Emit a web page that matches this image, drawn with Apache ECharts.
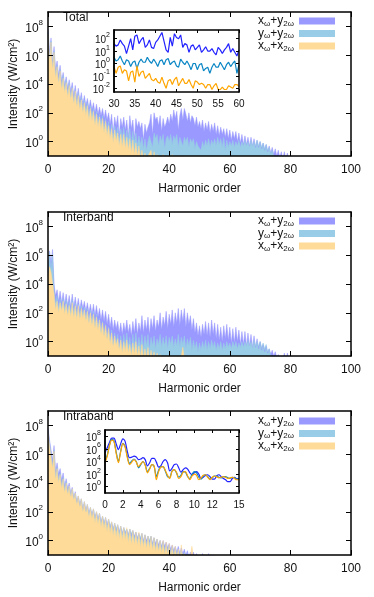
<!DOCTYPE html>
<html>
<head>
<meta charset="utf-8">
<script src="https://cdn.jsdelivr.net/npm/echarts@6/dist/echarts.min.js"></script>
<style>
  html, body { margin: 0; padding: 0; background: #fff; }
  #chart { width: 374px; height: 597px; }
</style>
</head>
<body>
<div id="chart"></div>
<script>
// spectra are sampled every STEP harmonic orders, values are log10 of intensity
var STEP = 0.5;
var INSET3_STEP = 0.25;
var INSET1_START = 30;

var mainXTicks = [0, 20, 40, 60, 80, 100];
var mainYTicks = [0, 2, 4, 6, 8];
var inset1YTicks = [-2, -1, 0, 1, 2];
var inset3YTicks = [0, 2, 4, 6, 8];
var panelTitles = ['Total', 'Interband', 'Intraband'];
var seriesNames = ['xw+y2w', 'yw+y2w', 'xw+x2w'];

// ---- Total ----
var totalBlue = [
  7.8, 6.2, 7.2, 5.5, 6.6, 5.0, 5.6, 4.6, 5.3, 4.2,
  4.8, 3.9, 4.5, 3.7, 4.3, 3.5, 4.1, 3.2, 3.9, 3.0,
  3.7, 2.8, 3.4, 2.6, 3.2, 2.5, 3.0, 2.3, 2.9, 2.2,
  2.7, 2.0, 2.6, 1.9, 2.4, 1.8, 2.3, 1.6, 2.2, 1.5,
  2.0, 1.2, 1.9, 0.6, 1.7, 1.1, 1.8, 0.4, 1.6, 1.0,
  1.7, 0.8, 1.5, 0.3, 1.8, 0.9, 1.5, 0.2, 1.6, 1.0,
  1.4, 0.9, 1.3, 0.1, 1.2, 0.6, 1.0, 1.3, 1.9, 0.5,
  2.0, 1.5, 1.7, 1.1, 1.8, 0.7, 1.6, 1.0, 1.3, 1.7,
  1.2, 1.9, 1.4, 2.2, 1.6, 2.1, 0.8, 1.8, 2.3, 1.5,
  2.3, 1.9, 1.4, 2.0, 1.3, 1.8, 1.6, 1.1, 1.7, 1.0,
  1.4, 0.9, 1.5, 0.7, 1.3, 0.8, 1.4, 0.6, 1.2, 0.7,
  1.3, 0.5, 1.1, 0.4, 1.0, 0.5, 0.9, 0.3, 0.9, 0.2,
  0.8, 0.1, 0.7, 0.2, 0.7, 0.0, 0.6, -0.1, 0.5, -0.2,
  0.4, -0.2, 0.3, -0.3, 0.3, -0.3, 0.2, -0.4, 0.1, -0.4,
  0.0, -0.5, -0.1, -0.6, -0.2, -0.7, -0.3, -0.8, -0.4, -0.9,
  -0.5, -1.0, -0.6, -1.1, -0.7, -1.2, -0.7, -1.2, -0.8, -1.3,
  -1.5
];
var totalLightBlue = [
  7.6, 5.8, 7.0, 5.2, 6.3, 4.6, 5.3, 4.2, 5.0, 3.8,
  4.6, 3.6, 4.3, 3.3, 4.1, 3.1, 3.8, 2.8, 3.6, 2.6,
  3.4, 2.4, 3.1, 2.2, 2.9, 2.1, 2.7, 1.8, 2.5, 1.8,
  2.3, 1.4, 2.1, 1.3, 1.9, 1.2, 1.8, 0.9, 1.6, 0.8,
  1.4, 0.5, 1.2, 0.3, 1.1, 0.4, 1.0, 0.1, 0.9, 0.2,
  1.0, 0.0, 0.8, 0.1, 0.9, -0.2, 0.7, -0.1, 0.6, -0.3,
  0.4, -0.2, 0.3, -0.5, 0.2, -0.6, 0.0, 0.4, 0.3, -0.4,
  0.6, 0.2, 0.5, -0.3, 0.4, 0.0, 0.5, -0.5, 0.2, 0.4,
  0.0, 0.5, -0.2, 0.4, 0.1, 0.5, -0.4, 0.3, 0.2, -0.3,
  0.3, 0.0, 0.3, -0.4, 0.2, -0.1, 0.2, -0.5, 0.0, -0.3,
  -0.2, -0.6, 0.0, -0.4, 0.1, -0.3, 0.2, -0.4, 0.1, -0.2,
  0.2, -0.3, 0.3, -0.2, 0.2, -0.4, 0.3, -0.6, 0.1, -0.4,
  0.0, -0.3, 0.1, -0.4, 0.0, -0.3, 0.1, -0.4, 0.0, -0.3,
  0.1, -0.3, 0.0, -0.4, 0.1, -0.3, 0.0, -0.3, 0.1, -0.3,
  0.0, -0.4, -0.1, -0.5, -0.2, -0.6, -0.4, -0.8, -0.6, -1.0,
  -0.9, -1.2, -1.5
];
var totalOrange = [
  7.5, 5.6, 6.9, 5.0, 6.2, 4.4, 5.2, 4.0, 4.9, 3.6,
  4.4, 3.4, 4.1, 3.1, 3.9, 2.9, 3.7, 2.6, 3.5, 2.4,
  3.2, 2.2, 2.9, 2.0, 2.7, 1.8, 2.5, 1.5, 2.3, 1.4,
  2.1, 1.1, 1.9, 1.0, 1.7, 0.8, 1.6, 0.6, 1.4, 0.4,
  1.1, 0.2, 0.9, -0.1, 0.8, 0.0, 0.6, -0.3, 0.5, -0.4,
  0.5, -0.5, 0.3, -0.6, 0.2, -0.8, 0.1, -0.9, -0.1, -1.0,
  -0.3, -1.2, -0.6, -1.3, -0.8, -1.4, -1.0, -0.8, -0.6, -1.5,
  -0.7, -1.2, -0.9, -1.5, -1.0, -1.3, -0.9, -1.6, -1.1, -1.4,
  -1.0, -1.6, -0.9, -1.5, -1.2, -1.8, -1.4, -1.9, -1.5, -2.0,
  -1.6
];
// inset of Total: harmonic orders 30..60
var inset1Blue = [
  1.6, 1.4, 1.5, 1.9, 1.6, 1.4, 0.8, 1.4, 2.0, 1.1,
  2.2, 2.3, 1.6, 1.9, 2.1, 1.3, 1.5, 1.9, 1.3, 1.2,
  1.7, 1.9, 2.2, 2.5, 1.8, 1.1, 0.9, 2.1, 1.4, 2.4,
  2.1, 2.0, 2.3, 1.3, 1.6, 1.5, 0.9, 1.4, 1.5, 1.1,
  1.3, 1.5, 0.9, 1.1, 1.35, 1.0, 1.0, 1.2, 0.9, 0.7,
  1.3, 1.1, 0.8, 1.1, 1.3, 1.6, 0.9, 1.2, 0.9, 0.6,
  1.1
];
var inset1LightBlue = [
  0.5, 0.2, 0.3, 0.6, 0.2, -0.1, 0.3, 0.2, -0.25, 0.1,
  0.2, -0.4, 0.1, 0.35, 0.1, 0.1, 0.5, 0.2, 0.0, 0.35,
  0.1, -0.25, 0.2, 0.3, -0.1, 0.3, 0.4, -0.1, 0.1, 0.2,
  -0.2, -0.3, 0.35, 0.1, -0.1, 0.2, -0.1, -0.5, 0.0, 0.0,
  -0.5, -0.1, 0.0, -0.6, -0.4, -0.3, -0.8, -0.3, 0.0, -0.3,
  -0.3, 0.1, -0.2, -0.5, -0.1, 0.1, -0.25, 0.0, 0.2, -0.8,
  -0.1
];
var inset1Orange = [
  -0.25, -0.8, -0.3, -0.2, -0.8, -0.5, -0.6, -1.4, -0.7, -0.6,
  -1.5, -0.2, -1.05, -0.7, -0.6, -1.2, -1.0, -0.8, -1.3, -1.4,
  -1.2, -1.5, -1.6, -1.1, -1.6, -2.0, -1.4, -1.3, -1.7, -1.3,
  -1.1, -1.8, -1.5, -1.2, -1.6, -1.6, -1.3, -1.7, -2.0, -1.4,
  -1.5, -1.7, -1.6, -1.7, -2.0, -1.7, -1.7, -2.1, -1.8, -1.6,
  -2.1, -2.1, -1.9, -2.1, -2.1, -1.8, -1.9, -2.0, -1.7, -1.7,
  -1.85
];

// ---- Interband ----
var interBlue = [
  4.8, 6.3, 5.5, 6.4, 4.0, 3.2, 3.6, 2.8, 3.5, 2.7,
  3.4, 2.6, 3.3, 2.5, 3.2, 2.4, 3.3, 2.4, 3.1, 2.3,
  3.0, 2.2, 2.9, 2.3, 2.8, 2.1, 2.7, 2.0, 2.6, 1.9,
  2.6, 1.8, 2.5, 1.7, 2.3, 1.5, 2.2, 1.4, 2.1, 1.2,
  1.9, 1.0, 1.7, 0.8, 1.5, 0.9, 1.4, 0.6, 1.3, 0.5,
  1.3, 0.7, 1.5, 0.6, 1.2, 0.4, 1.4, 0.6, 1.6, 0.5,
  1.3, 0.7, 1.8, 0.6, 1.5, 0.8, 1.7, 0.5, 1.6, 0.9,
  1.8, 0.7, 1.5, 1.0, 2.0, 0.8, 1.7, 1.1, 2.1, 0.9,
  1.9, 1.2, 2.2, 1.0, 2.0, 1.3, 2.3, 1.1, 2.2, 1.4,
  2.3, 1.0, 2.0, 1.2, 1.8, 0.8, 1.6, 0.6, 1.3, 0.4,
  1.1, 0.3, 1.2, 0.5, 1.4, 0.4, 1.3, 0.3, 1.5, 0.5,
  1.3, 0.2, 1.2, 0.1, 1.0, 0.0, 1.1, 0.2, 1.2, 0.1,
  1.0, -0.1, 0.9, -0.1, 1.0, 0.0, 0.8, -0.2, 0.7, -0.2,
  0.7, -0.3, 0.6, -0.3, 0.5, -0.4, 0.4, -0.4, 0.2, -0.5,
  0.0, -0.6, -0.2, -0.7, -0.3, -0.8, -0.5, -0.9, -0.6, -1.0,
  -0.7, -1.1, -0.9, -1.2, -1.1, -1.3, -0.8, -1.3, -0.8, -1.3,
  -1.5
];
var interLightBlue = [
  4.6, 6.2, 5.0, 6.1, 3.6, 2.6, 3.2, 2.3, 3.0, 2.3,
  3.0, 2.2, 2.9, 2.0, 2.8, 2.0, 2.9, 1.9, 2.7, 1.8,
  2.6, 1.7, 2.5, 1.8, 2.4, 1.6, 2.3, 1.4, 2.2, 1.3,
  2.1, 1.1, 1.9, 1.0, 1.6, 0.7, 1.4, 0.5, 1.2, 0.3,
  1.0, 0.1, 0.8, -0.2, 0.6, -0.1, 0.5, -0.4, 0.4, -0.5,
  0.5, -0.3, 0.6, -0.4, 0.3, -0.6, 0.5, -0.4, 0.6, -0.5,
  0.3, -0.4, 0.5, -0.5, 0.4, -0.3, 0.5, -0.6, 0.3, -0.3,
  0.4, -0.5, 0.2, -0.2, 0.5, -0.4, 0.3, -0.3, 0.4, -0.5,
  0.3, -0.2, 0.4, -0.4, 0.2, -0.3, 0.5, -0.4, 0.3, -0.2,
  0.4, -0.5, 0.2, -0.3, 0.3, -0.6, 0.1, -0.5, 0.0, -0.7,
  -0.1, -0.6, 0.0, -0.5, 0.1, -0.6, 0.0, -0.5, 0.1, -0.4,
  0.0, -0.6, -0.1, -0.5, 0.0, -0.6, -0.1, -0.5, 0.0, -0.4,
  -0.1, -0.5, 0.0, -0.4, 0.0, -0.5, -0.1, -0.4, 0.0, -0.4,
  0.0, -0.3, 0.1, -0.3, 0.0, -0.4, 0.1, -0.3, 0.0, -0.3,
  0.0, -0.4, -0.1, -0.5, -0.2, -0.7, -0.5, -0.9, -0.8, -1.1,
  -1.5
];
var interOrange = [
  4.5, 5.2, 4.8, 4.9, 3.3, 2.2, 2.8, 2.0, 2.7, 2.1,
  2.8, 1.9, 2.6, 1.8, 2.5, 1.7, 2.7, 1.6, 2.5, 1.5,
  2.5, 1.5, 2.3, 1.6, 2.2, 1.4, 2.1, 1.2, 2.0, 1.1,
  1.9, 0.9, 1.7, 0.8, 1.5, 0.5, 1.3, 0.3, 1.1, 0.1,
  0.9, -0.2, 0.6, -0.4, 0.4, -0.3, 0.2, -0.6, 0.1, -0.8,
  0.0, -0.7, 0.1, -0.8, -0.2, -1.0, -0.1, -0.9, 0.0, -1.0,
  -0.3, -1.1, -0.2, -1.2, -0.5, -1.2, -0.4, -1.3, -0.6, -1.2,
  -0.7, -1.4, -0.8, -1.3, -0.9, -1.5, -1.0, -1.5, -1.1, -1.5,
  -1.2, -1.5, -1.2, -1.5, -1.3, -1.5, -1.2, -1.5, -1.0, -0.4,
  -1.2, -1.5, -1.5
];

// ---- Intraband ----
var intraBlue = [
  7.8, 7.0, 6.3, 5.6, 6.6, 4.8, 5.4, 4.6, 5.0, 4.2,
  4.7, 3.8, 4.3, 3.6, 4.0, 3.3, 3.7, 3.0, 3.4, 2.7,
  3.1, 2.5, 2.9, 2.2, 2.7, 2.1, 2.5, 1.9, 2.3, 1.8,
  2.2, 1.6, 2.0, 1.5, 1.9, 1.3, 1.7, 1.2, 1.6, 1.1,
  1.5, 0.9, 1.3, 0.8, 1.2, 0.7, 1.1, 0.6, 1.0, 0.5,
  0.9, 0.5, 0.8, 0.4, 0.8, 0.3, 0.7, 0.3, 0.6, 0.2,
  0.5, 0.1, 0.5, 0.0, 0.4, 0.0, 0.3, -0.1, 0.3, -0.2,
  0.2, -0.2, 0.1, -0.3, 0.0, -0.4, 0.0, -0.4, -0.1, -0.5,
  -0.2, -0.6, -0.3, -0.7, -0.4, -0.8, -0.4, -0.9, -0.5, -0.9,
  -0.6, -1.0, -0.7, -1.1, -0.8, -1.2, -0.8, -1.2, -0.9, -1.3,
  -1.0, -1.3, -0.9, -1.3, -1.0, -1.4, -0.9, -1.4, -1.2, -1.5,
  -1.5
];
var intraLightBlue = [
  7.6, 6.8, 6.0, 5.2, 6.3, 4.4, 5.1, 4.2, 4.7, 3.8,
  4.4, 3.5, 4.1, 3.3, 3.8, 3.1, 3.6, 2.9, 3.3, 2.6,
  3.1, 2.4, 2.9, 2.1, 2.7, 2.0, 2.5, 1.8, 2.3, 1.7,
  2.2, 1.5, 2.0, 1.4, 1.9, 1.2, 1.7, 1.1, 1.6, 0.9,
  1.5, 1.0, 1.3, 0.7, 1.2, 0.8, 1.1, 0.5, 1.0, 0.4,
  0.9, 0.6, 0.8, 0.3, 0.8, 0.5, 0.7, 0.1, 0.6, 0.0,
  0.5, 0.2, 0.5, -0.2, 0.4, -0.3, 0.3, 0.0, 0.3, -0.4,
  0.2, -0.5, 0.1, -0.6, 0.0, -0.6, -0.1, -0.7, -0.2, -0.8,
  -0.3, -0.9, -0.4, -1.0, -0.5, -1.0, -0.6, -1.1, -0.7, -1.1,
  -0.8, -1.2, -0.9, -1.3, -1.0, -1.3, -1.1, -1.4, -1.2, -1.4,
  -1.5
];
var intraOrange = [
  7.5, 6.6, 5.8, 5.0, 6.2, 4.2, 5.0, 4.0, 4.6, 3.6,
  4.3, 3.3, 4.0, 3.2, 3.8, 3.0, 3.6, 2.8, 3.3, 2.5,
  3.1, 2.3, 2.9, 2.0, 2.7, 1.9, 2.5, 1.6, 2.3, 1.5,
  2.2, 1.2, 2.0, 1.1, 1.9, 0.9, 1.7, 0.8, 1.6, 0.6,
  1.5, 0.5, 1.3, 0.3, 1.2, 0.2, 1.1, 0.1, 1.0, 0.0,
  0.9, 0.0, 0.9, -0.2, 0.8, -0.3, 0.7, -0.3, 0.6, -0.4,
  0.6, -0.5, 0.5, -0.5, 0.4, -0.6, 0.3, -0.6, 0.3, -0.7,
  0.2, -0.8, 0.1, -0.8, 0.0, -0.9, 0.0, -1.0, -0.1, -1.0,
  -0.2, -1.1, -0.3, -1.2, -0.4, -1.2, -0.6, -1.3, -0.3, -1.3,
  -0.9, -1.4, -1.0, -1.4, -1.1, -0.4, -1.2, -1.5, -1.3, -1.5,
  -1.5
];
// inset of Intraband: harmonic orders 0..15
var inset3Blue = [
  5.4, 6.2, 7.0, 7.7, 7.7, 6.8, 5.9, 6.8, 7.6, 7.2,
  5.6, 4.6, 4.7, 4.85, 4.7, 4.3, 4.4, 4.6, 4.3, 3.3,
  3.8, 4.5, 4.5, 3.9, 3.1, 3.3, 4.0, 4.3, 3.8, 2.5,
  2.9, 3.5, 3.6, 3.0, 2.3, 2.7, 3.0, 2.8, 2.2, 1.9,
  2.2, 2.4, 2.0, 1.3, 1.5, 1.8, 1.9, 1.6, 1.2, 1.2,
  1.7, 1.9, 1.6, 1.3, 1.1, 0.8, 0.8, 1.3, 1.5, 1.3,
  1.3
];
var inset3LightBlue = [
  4.0, 5.0, 6.6, 7.5, 7.3, 5.5, 4.0, 5.6, 6.9, 6.4,
  4.8, 3.7, 4.1, 4.4, 4.0, 3.0, 3.5, 4.0, 3.5, 2.4,
  2.9, 3.5, 3.2, 1.6, 2.6, 3.2, 3.2, 2.5, 1.6, 1.5,
  2.5, 2.7, 2.2, 1.5, 1.8, 2.4, 2.3, 1.6, 1.3, 2.0,
  2.4, 2.2, 1.5, 1.2, 1.7, 1.9, 1.6, 1.2, 1.4, 1.7,
  1.7, 1.5, 1.4, 1.6, 1.6, 1.4, 1.3, 1.5, 1.4, 1.2,
  1.2
];
var inset3Orange = [
  3.8, 4.8, 6.5, 7.4, 7.2, 5.3, 3.8, 5.5, 6.85, 6.3,
  4.6, 3.5, 3.9, 4.3, 3.9, 3.2, 3.6, 4.0, 3.4, 2.2,
  2.8, 3.5, 3.3, 1.1, 2.4, 3.1, 3.2, 2.6, 1.8, 1.3,
  2.4, 2.7, 2.3, 1.3, 1.6, 2.3, 2.4, 1.7, 1.1, 1.7,
  2.0, 1.8, 1.1, 1.4, 1.8, 1.9, 1.5, 1.1, 1.5, 1.7,
  1.6, 1.4, 1.5, 1.6, 1.5, 1.3, 1.4, 1.5, 1.3, 1.1,
  1.1
];

var FONT = 'Liberation Sans, Arial, sans-serif';
var areaColors = ['#9999ff', '#99cce6', '#ffdb99'];
var lineColors = ['#2222ff', '#0a86c4', '#ffa500'];

function pairs(vals, start, step) {
  return vals.map(function (v, i) { return [start + i * step, v]; });
}

function expLabel(v) { return '{b|10}{e|' + v + '}'; }

function expRich(big, small) {
  return {
    b: { fontSize: big, fontFamily: FONT, color: '#111', lineHeight: big + 4, verticalAlign: 'bottom' },
    e: { fontSize: small, fontFamily: FONT, color: '#111', lineHeight: small, verticalAlign: 'top' }
  };
}

var frameLine = { show: true, onZero: false, lineStyle: { color: '#000', width: 1.5 } };

function xAxes(gi, min, max, interval, pos, opts) {
  var a = {
    gridIndex: gi, type: 'value', min: min, max: max, interval: interval,
    position: pos, z: 10,
    axisLine: frameLine,
    axisTick: { show: true, inside: true, length: opts.tick, lineStyle: { color: '#000' } },
    axisLabel: {
      show: pos === 'bottom', color: '#111', fontSize: opts.font, fontFamily: FONT,
      margin: opts.margin, showMinLabel: true, showMaxLabel: true
    },
    splitLine: { show: false }
  };
  if (opts.name && pos === 'bottom') {
    a.name = opts.name;
    a.nameLocation = 'middle';
    a.nameGap = 27;
    a.nameMoveOverlap = false;
    a.nameTextStyle = { color: '#111', fontSize: 12, fontFamily: FONT };
  }
  return a;
}

// labelValues: which tick values get a label on this axis (null = no labels)
function yAxes(gi, min, max, ticks, labelValues, pos, opts) {
  var a = {
    gridIndex: gi, type: 'value', min: min, max: max,
    position: pos, z: 10,
    axisLine: frameLine,
    axisTick: { show: true, inside: true, length: opts.tick, customValues: ticks, lineStyle: { color: '#000' } },
    axisLabel: {
      show: !!labelValues, customValues: labelValues || ticks, formatter: expLabel,
      showMinLabel: true, showMaxLabel: true, hideOverlap: false,
      rich: expRich(opts.font, opts.sup), margin: opts.margin
    },
    splitLine: { show: false }
  };
  if (opts.name && pos === 'left') {
    a.name = opts.name;
    a.nameLocation = 'middle';
    a.nameGap = 28;
    a.nameMoveOverlap = false;
    a.nameTextStyle = { color: '#111', fontSize: 12, fontFamily: FONT };
  }
  return a;
}

var grids = [
  { left: 48, top: 12, width: 303, height: 144 },
  { left: 48, top: 212, width: 303, height: 144 },
  { left: 48, top: 411, width: 303, height: 144 },
  { left: 114, top: 30, width: 125, height: 62 },
  { left: 105, top: 430, width: 134, height: 63 }
];
grids.forEach(function (g) { g.containLabel = false; g.outerBoundsMode = 'none'; });

var xAxisList = [], yAxisList = [];
var mainOpts = { tick: 5, font: 12, sup: 8, margin: 8, name: 'Harmonic order' };
var mainYOpts = { tick: 5, font: 12, sup: 8, margin: 5, name: 'Intensity (W/cm²)' };
for (var p = 0; p < 3; p++) {
  xAxisList.push(xAxes(p, 0, 100, 20, 'bottom', mainOpts));
  xAxisList.push(xAxes(p, 0, 100, 20, 'top', mainOpts));
  yAxisList.push(yAxes(p, -1, 9, mainYTicks, mainYTicks, 'left', mainYOpts));
  yAxisList.push(yAxes(p, -1, 9, mainYTicks, null, 'right', mainYOpts));
}
var insetXOpts = { tick: 3, font: 10, margin: 7 };
var insetYOpts = { tick: 3, font: 10, sup: 7, margin: 4 };
// inset 1: x axes 6,7 / y axes 6,7,8 ; inset 3: x axes 8,9 / y axes 9,10,11
// the inset tick labels are split over two stacked left axes so none is dropped as overlapping
xAxisList.push(xAxes(3, 30, 60, 5, 'bottom', insetXOpts));
xAxisList.push(xAxes(3, 30, 60, 5, 'top', insetXOpts));
yAxisList.push(yAxes(3, -2.3, 2.7, inset1YTicks, inset1YTicks.filter(function (v, i) { return i % 2 === 0; }), 'left', insetYOpts));
yAxisList.push(yAxes(3, -2.3, 2.7, inset1YTicks, inset1YTicks.filter(function (v, i) { return i % 2 === 1; }), 'left', insetYOpts));
yAxisList.push(yAxes(3, -2.3, 2.7, inset1YTicks, null, 'right', insetYOpts));
xAxisList.push(xAxes(4, 0, 15, 2, 'bottom', insetXOpts));
xAxisList.push(xAxes(4, 0, 15, 2, 'top', insetXOpts));
yAxisList.push(yAxes(4, -1, 9, inset3YTicks, inset3YTicks.filter(function (v, i) { return i % 2 === 0; }), 'left', insetYOpts));
yAxisList.push(yAxes(4, -1, 9, inset3YTicks, inset3YTicks.filter(function (v, i) { return i % 2 === 1; }), 'left', insetYOpts));
yAxisList.push(yAxes(4, -1, 9, inset3YTicks, null, 'right', insetYOpts));

function areaSeries(name, vals, k, axis) {
  return {
    name: name, type: 'line', xAxisIndex: axis, yAxisIndex: axis,
    data: pairs(vals, 0, STEP), symbol: 'none', silent: true,
    lineStyle: { color: areaColors[k], width: 0.5 },
    itemStyle: { color: areaColors[k] },
    areaStyle: { color: areaColors[k], opacity: 1, origin: 'start' },
    clip: true
  };
}
function lineSeries(name, vals, start, step, k, xi, yi, smooth) {
  return {
    name: name, type: 'line', xAxisIndex: xi, yAxisIndex: yi,
    data: pairs(vals, start, step), symbol: 'none', silent: true, smooth: smooth,
    lineStyle: { color: lineColors[k], width: 1.2 },
    itemStyle: { color: lineColors[k] },
    clip: true, z: 3
  };
}

var panels = [
  [totalBlue, totalLightBlue, totalOrange],
  [interBlue, interLightBlue, interOrange],
  [intraBlue, intraLightBlue, intraOrange]
];
var series = [];
panels.forEach(function (set, p) {
  set.forEach(function (vals, k) {
    series.push(areaSeries(seriesNames[k], vals, k, p * 2));
  });
});
[inset1Blue, inset1LightBlue, inset1Orange].forEach(function (vals, k) {
  series.push(lineSeries('inset1-' + k, vals, INSET1_START, STEP, k, 6, 6, false));
});
[inset3Blue, inset3LightBlue, inset3Orange].forEach(function (vals, k) {
  series.push(lineSeries('inset3-' + k, vals, 0, INSET3_STEP, k, 8, 9, 0.3));
});

var legendText = {
  'xw+y2w': '{n|x}{s|ω}{n|+y}{s|2ω}',
  'yw+y2w': '{n|y}{s|ω}{n|+y}{s|2ω}',
  'xw+x2w': '{n|x}{s|ω}{n|+x}{s|2ω}'
};
var legendTops = [15, 215, 415];
var legends = legendTops.map(function (t) {
  return {
    data: seriesNames, orient: 'vertical', right: 39, top: t, align: 'right',
    icon: 'rect', itemWidth: 36, itemHeight: 7, itemGap: 0, padding: 0,
    selectedMode: false,
    formatter: function (name) { return legendText[name]; },
    textStyle: {
      color: '#111',
      rich: {
        n: { fontSize: 12, fontFamily: FONT, color: '#111', lineHeight: 13, verticalAlign: 'middle' },
        s: { fontSize: 8, fontFamily: FONT, color: '#111', lineHeight: 8, verticalAlign: 'bottom' }
      }
    }
  };
});

var titleTops = [12, 212, 411];
var titles = panelTitles.map(function (t, i) {
  return {
    text: t, left: 63, top: titleTops[i], padding: 0,
    textStyle: { fontSize: 12, fontWeight: 'normal', color: '#111', fontFamily: FONT }
  };
});

var myChart = echarts.init(document.getElementById('chart'));
myChart.setOption({
  animation: false,
  backgroundColor: '#fff',
  textStyle: { fontFamily: FONT },
  title: titles,
  legend: legends,
  grid: grids,
  xAxis: xAxisList,
  yAxis: yAxisList,
  series: series
});
</script>
</body>
</html>
